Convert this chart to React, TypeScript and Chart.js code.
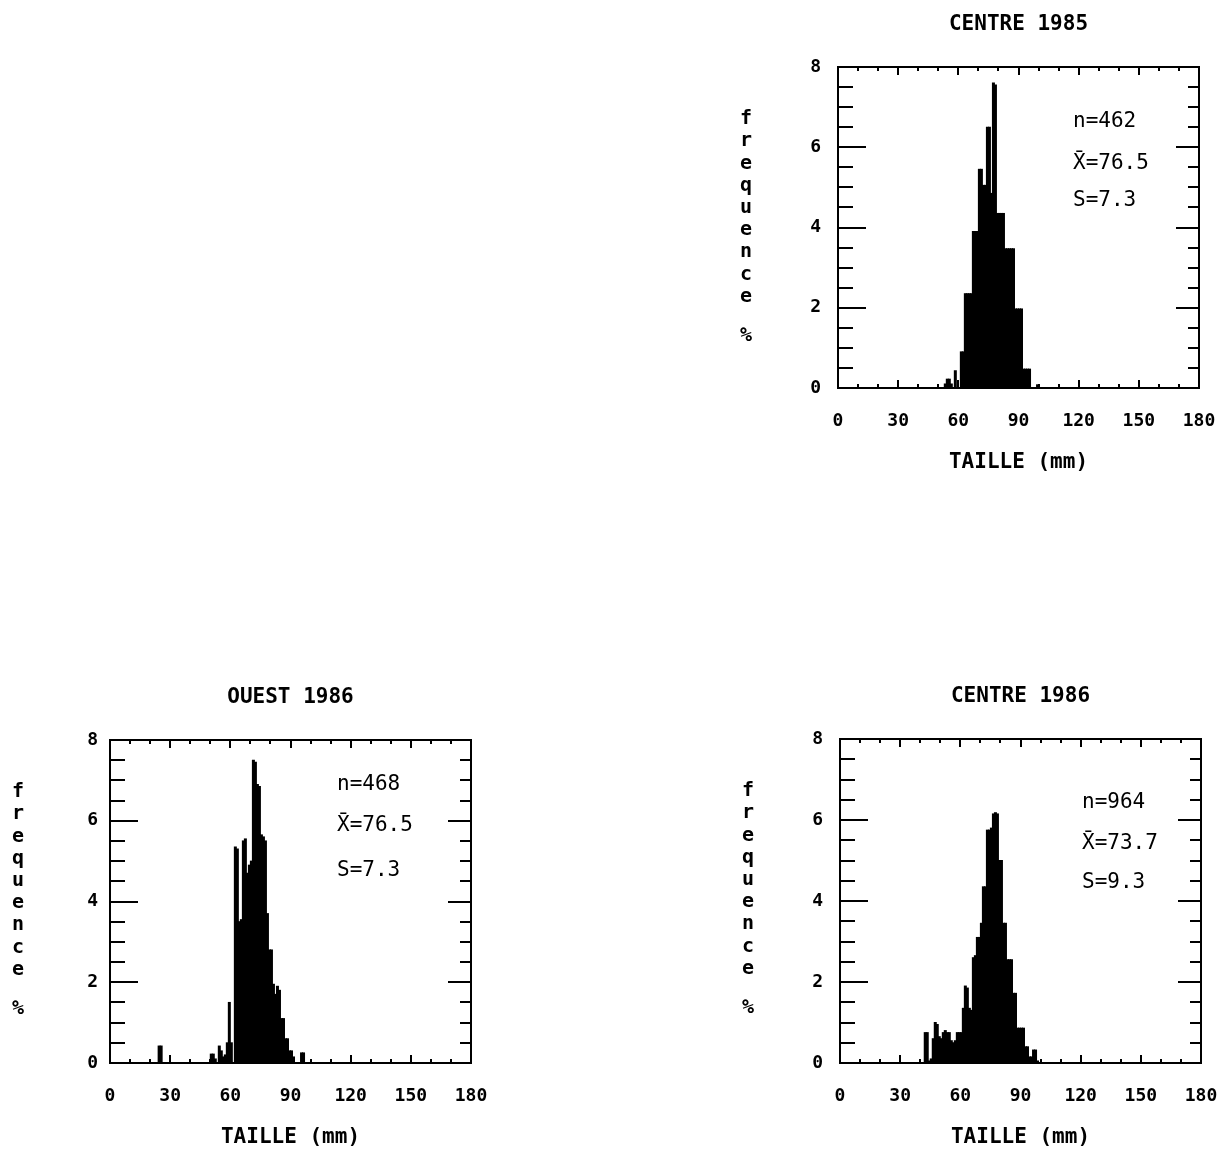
import React, { useEffect, useRef } from "react";
import { Chart, registerables } from "chart.js";

Chart.register(...registerables);

const FONT = '"DejaVu Sans Mono", "Liberation Mono", monospace';

// ---- shared axis text ----
const xTickValues = [0, 30, 60, 90, 120, 150, 180];
const yTickValues = [0, 2, 4, 6, 8];
const yAxisLetters = ["f", "r", "e", "q", "u", "e", "n", "c", "e"];
const yAxisUnit = "%";
const xAxisTitle = "TAILLE (mm)";

// ---- CENTRE 1985 ----
const centre1985Title = "CENTRE 1985";
const centre1985Stats = ["n=462", "X\u0304=76.5", "S=7.3"];
const centre1985Sizes = [53, 54, 55, 56, 58, 61, 62, 63, 64, 65, 66, 67, 68, 69, 70, 71, 72, 73, 74, 75, 76, 77, 78, 79, 80, 81, 82, 83, 84, 85, 86, 87, 88, 89, 90, 91, 92, 93, 94, 95, 99];
const centre1985Freq = [0.1, 0.22, 0.22, 0.1, 0.43, 0.9, 0.9, 2.35, 2.35, 2.35, 2.35, 3.9, 3.9, 3.9, 5.45, 5.45, 5.05, 5.05, 6.5, 6.5, 4.85, 7.6, 7.55, 4.35, 4.35, 4.35, 4.35, 3.47, 3.47, 3.47, 3.47, 3.47, 1.97, 1.97, 1.97, 1.97, 0.47, 0.47, 0.47, 0.47, 0.08];

// ---- OUEST 1986 ----
const ouest1986Title = "OUEST 1986";
const ouest1986Stats = ["n=468", "X\u0304=76.5", "S=7.3"];
const ouest1986Sizes = [24, 25, 50, 51, 52, 54, 55, 56, 57, 58, 59, 60, 62, 63, 64, 65, 66, 67, 68, 69, 70, 71, 72, 73, 74, 75, 76, 77, 78, 79, 80, 81, 82, 83, 84, 85, 86, 87, 88, 89, 90, 91, 95, 96];
const ouest1986Freq = [0.42, 0.42, 0.22, 0.22, 0.1, 0.42, 0.3, 0.15, 0.2, 0.5, 1.5, 0.5, 5.35, 5.3, 3.5, 3.55, 5.5, 5.55, 4.7, 4.9, 5.0, 7.5, 7.45, 6.9, 6.85, 5.65, 5.6, 5.5, 3.7, 2.8, 2.8, 1.95, 1.7, 1.9, 1.8, 1.1, 1.1, 0.6, 0.6, 0.3, 0.3, 0.15, 0.25, 0.25];

// ---- CENTRE 1986 ----
const centre1986Title = "CENTRE 1986";
const centre1986Stats = ["n=964", "X\u0304=73.7", "S=9.3"];
const centre1986Sizes = [42, 43, 44, 45, 46, 47, 48, 49, 50, 51, 52, 53, 54, 55, 56, 57, 58, 59, 60, 61, 62, 63, 64, 65, 66, 67, 68, 69, 70, 71, 72, 73, 74, 75, 76, 77, 78, 79, 80, 81, 82, 83, 84, 85, 86, 87, 88, 89, 90, 91, 92, 93, 94, 95, 96, 97, 98];
const centre1986Freq = [0.75, 0.75, 0.05, 0.1, 0.6, 1.0, 0.95, 0.65, 0.6, 0.75, 0.8, 0.75, 0.75, 0.55, 0.5, 0.55, 0.75, 0.75, 0.75, 1.35, 1.9, 1.85, 1.35, 1.3, 2.6, 2.65, 3.1, 3.1, 3.45, 4.35, 4.35, 5.75, 5.75, 5.8, 6.15, 6.18, 6.15, 5.0, 5.0, 3.45, 3.45, 2.55, 2.55, 2.55, 1.72, 1.72, 0.86, 0.86, 0.86, 0.86, 0.4, 0.4, 0.15, 0.15, 0.32, 0.32, 0.05];

type PanelLayout = {
  plotLeft: number;
  plotTop: number;
  plotW: number;
  plotH: number;
  yLabelPad: number;
  statsX: number;
  statsY: number[];
};

const LEFT_SPACE = 110;
const TOP_SPACE = 60;
const RIGHT_SPACE = 28;
const BOTTOM_SPACE = 87;

const layoutCentre1985: PanelLayout = { plotLeft: 838, plotTop: 67, plotW: 361, plotH: 321, yLabelPad: 17, statsX: 235, statsY: [55, 97, 134] };
const layoutOuest1986: PanelLayout = { plotLeft: 110, plotTop: 740, plotW: 361, plotH: 323, yLabelPad: 12, statsX: 227, statsY: [45, 86, 131] };
const layoutCentre1986: PanelLayout = { plotLeft: 840, plotTop: 739, plotW: 361, plotH: 324, yLabelPad: 17, statsX: 242, statsY: [64, 105, 144] };

type HistProps = {
  title: string;
  stats: string[];
  sizes: number[];
  freq: number[];
  layout: PanelLayout;
};

function Histogram({ title, stats, sizes, freq, layout }: HistProps) {
  const ref = useRef<HTMLCanvasElement | null>(null);
  const width = LEFT_SPACE + layout.plotW + RIGHT_SPACE;
  const height = TOP_SPACE + layout.plotH + BOTTOM_SPACE;

  useEffect(() => {
    const canvas = ref.current;
    if (!canvas) return;

    const decor = {
      id: "decor",
      afterDraw(chart: any) {
        const { ctx, chartArea, scales } = chart;
        const xs = scales.x;
        const ys = scales.y;
        const { left, right, top, bottom } = chartArea;
        ctx.save();
        ctx.strokeStyle = "#000";
        ctx.fillStyle = "#000";
        ctx.lineWidth = 2;
        ctx.beginPath();
        ctx.rect(left, top, right - left, bottom - top);
        // y ticks (inside, left and right)
        for (let v = 0.5; v < 8 - 1e-6; v += 0.5) {
          const py = Math.round(ys.getPixelForValue(v));
          const major = Math.abs(v % 2) < 1e-6;
          const ll = major ? 28 : 15;
          const rl = major ? 23 : 11;
          ctx.moveTo(left, py);
          ctx.lineTo(left + ll, py);
          ctx.moveTo(right, py);
          ctx.lineTo(right - rl, py);
        }
        // x ticks (inside, top and bottom)
        for (let m = 10; m < 180; m += 10) {
          const px = Math.round(xs.getPixelForValue(m));
          const len = m % 30 === 0 ? 8 : 4;
          ctx.moveTo(px, top);
          ctx.lineTo(px, top + len);
          ctx.moveTo(px, bottom);
          ctx.lineTo(px, bottom - len);
        }
        ctx.stroke();

        // stats text
        ctx.font = `21px ${FONT}`;
        ctx.textAlign = "left";
        ctx.textBaseline = "middle";
        stats.forEach((s, i) => {
          ctx.fillText(s, left + layout.statsX, top + layout.statsY[i]);
        });

        // vertical stacked y-axis title
        ctx.font = `bold 20px ${FONT}`;
        ctx.textAlign = "center";
        yAxisLetters.forEach((ch, i) => {
          ctx.fillText(ch, left - 92, top + 52 + i * 22.2);
        });
        ctx.fillText(yAxisUnit, left - 92, top + 269);
        ctx.restore();
      },
    };

    const chart = new Chart(canvas, {
      type: "bar",
      data: {
        datasets: [
          {
            data: sizes.map((s, i) => ({ x: s + 0.5, y: freq[i] })),
            backgroundColor: "#000",
            borderWidth: 0,
            barPercentage: 1,
            categoryPercentage: 1,
            inflateAmount: 0.5,
          } as any,
        ],
      },
      options: {
        animation: false,
        responsive: false,
        devicePixelRatio: 1,
        layout: { padding: { left: LEFT_SPACE - 60, right: RIGHT_SPACE, top: 0, bottom: 0 } },
        plugins: {
          legend: { display: false },
          tooltip: { enabled: false },
          title: {
            display: true,
            text: title,
            fullSize: false,
            color: "#000",
            font: { family: FONT, size: 21, weight: "bold", lineHeight: 1.2 },
            padding: { top: 5, bottom: 29.8 },
          } as any,
        },
        scales: {
          x: {
            type: "linear",
            min: 0,
            max: 180,
            offset: false,
            grid: { display: false, drawTicks: false },
            border: { display: false },
            afterBuildTicks: (s: any) => {
              s.ticks = xTickValues.map((v) => ({ value: v }));
            },
            ticks: {
              autoSkip: false,
              maxRotation: 0,
              padding: 4,
              color: "#000",
              font: { family: FONT, size: 18, weight: "bold", lineHeight: 58 / 18 },
            },
            title: {
              display: true,
              text: xAxisTitle,
              color: "#000",
              font: { family: FONT, size: 21, weight: "bold", lineHeight: 1.2 },
              padding: { top: 0, bottom: 0 },
            },
            afterFit: (s: any) => {
              s.height = BOTTOM_SPACE;
            },
          } as any,
          y: {
            type: "linear",
            min: 0,
            max: 8,
            grid: { display: false, drawTicks: false },
            border: { display: false },
            afterBuildTicks: (s: any) => {
              s.ticks = yTickValues.map((v) => ({ value: v }));
            },
            ticks: {
              padding: layout.yLabelPad,
              color: "#000",
              font: { family: FONT, size: 18, weight: "bold", lineHeight: 1.2 },
            },
            afterFit: (s: any) => {
              s.width = 60;
            },
          } as any,
        },
      },
      plugins: [decor],
    });

    return () => {
      chart.destroy();
    };
  }, [title, stats, sizes, freq, layout]);

  return (
    <canvas
      ref={ref}
      width={width}
      height={height}
      style={{
        position: "absolute",
        left: layout.plotLeft - LEFT_SPACE,
        top: layout.plotTop - TOP_SPACE,
        width,
        height,
        display: "block",
      }}
    />
  );
}

export default function App() {
  return (
    <div
      style={{
        position: "absolute",
        left: 0,
        top: 0,
        width: 1230,
        height: 1152,
        overflow: "hidden",
        background: "#fff",
      }}
    >
      <Histogram title={centre1985Title} stats={centre1985Stats} sizes={centre1985Sizes} freq={centre1985Freq} layout={layoutCentre1985} />
      <Histogram title={ouest1986Title} stats={ouest1986Stats} sizes={ouest1986Sizes} freq={ouest1986Freq} layout={layoutOuest1986} />
      <Histogram title={centre1986Title} stats={centre1986Stats} sizes={centre1986Sizes} freq={centre1986Freq} layout={layoutCentre1986} />
    </div>
  );
}
